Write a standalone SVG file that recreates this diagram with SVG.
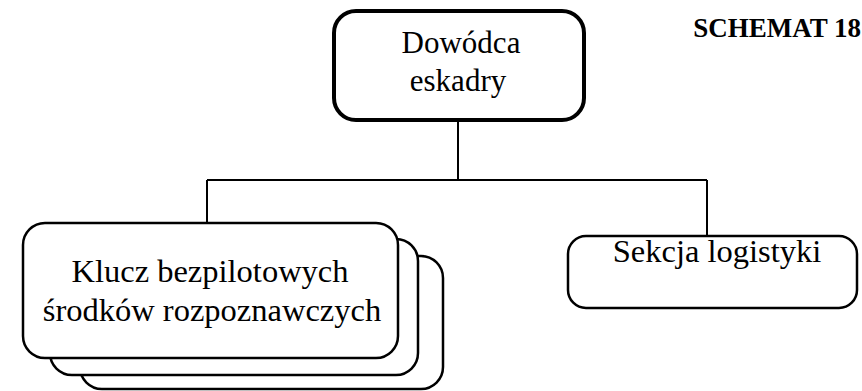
<svg xmlns="http://www.w3.org/2000/svg" width="862" height="391" viewBox="0 0 862 391">
<style>
.box{fill:#fff;stroke:#000;stroke-width:2.5}
.top{fill:#fff;stroke:#000;stroke-width:4}
.c{fill:none;stroke:#000;stroke-width:2}
</style>
<rect width="862" height="391" fill="#fff"/>
<text x="861" y="37" font-family="'Liberation Serif', 'Times New Roman', serif" font-size="27" font-weight="bold" text-anchor="end">SCHEMAT 18</text>
<g id="connectors">
<path class="c" d="M458 120V180M207 180H707M207 180V223M707 180V236"/>
</g>
<g id="dowodca" font-family="'Liberation Serif', 'Times New Roman', serif" font-size="31" text-anchor="middle">
<rect class="top" x="334" y="11" width="250" height="109" rx="22"/>
<text x="461" y="53">Dowódca</text>
<text x="458" y="91">eskadry</text>
</g>
<g id="klucz" font-family="'Liberation Serif', 'Times New Roman', serif" font-size="32.5" text-anchor="middle">
<rect class="box" x="80" y="256" width="363" height="133" rx="22"/>
<rect class="box" x="50" y="239" width="368" height="136" rx="22"/>
<rect class="box" x="23" y="223" width="375" height="135" rx="22"/>
<text x="210" y="282">Klucz bezpilotowych</text>
<text x="212" y="321">środków rozpoznawczych</text>
</g>
<g id="sekcja" font-family="'Liberation Serif', 'Times New Roman', serif" font-size="32.5" text-anchor="middle">
<rect class="box" x="568" y="236" width="289" height="72" rx="18"/>
<text x="717" y="262">Sekcja logistyki</text>
</g>
</svg>
